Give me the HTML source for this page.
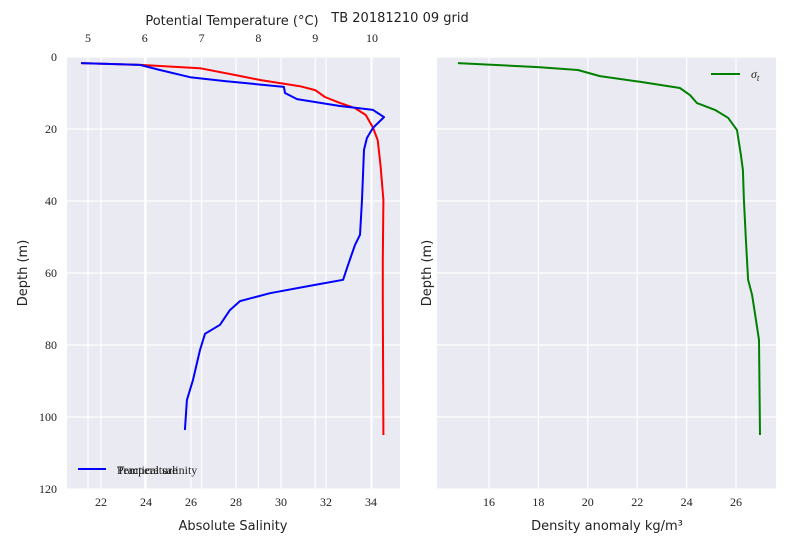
<!DOCTYPE html>
<html><head><meta charset="utf-8"><style>
body{margin:0;background:#fff}
svg text{font-family:"DejaVu Sans","Liberation Sans",sans-serif}
.tk{font-family:"Liberation Serif","DejaVu Serif",serif;font-size:12px;fill:#222}
.lb{font-size:13px;fill:#222}
</style></head><body>
<svg id="c" width="800" height="550" xmlns="http://www.w3.org/2000/svg"></svg>
<script>
const tempTicks=[5,6,7,8,9,10];
const salTicks=[22,24,26,28,30,32,34];
const depthTicks=[0,20,40,60,80,100,120];
const denTicks=[16,18,20,22,24,26];
const tempVals=[4.88,5.92,6.97,7.59,8.03,8.73,9.0,9.17,9.44,9.7,9.89,10.02,10.1,10.15,10.2,10.19,10.19,10.2];
const tempDepth=[1.7,2.2,3.1,5.0,6.4,8.1,9.2,11.1,12.8,14.2,16.1,19.7,23.1,30,39.7,56.4,67.5,105];
const salVals=[21.11,23.73,24.62,25.96,27.51,30.13,30.18,30.71,32.62,34.09,34.58,34.09,33.82,33.69,33.6,33.51,33.29,32.98,32.76,31.51,29.51,28.18,27.73,27.29,26.62,26.4,26.09,25.82,25.73];
const salDepth=[1.7,2.2,3.6,5.6,6.7,8.3,10,11.7,13.6,14.7,16.7,19.7,22.5,25.8,39.7,49.4,52.2,57.8,61.9,63.3,65.6,67.8,70.3,74.4,76.9,81.4,89.7,95.3,103.6];
const denVals=[14.74,17.98,19.6,20.49,22.11,23.73,24.14,24.42,25.15,25.68,26.04,26.2,26.28,26.32,26.4,26.49,26.65,26.81,26.93,26.97];
const denDepth=[1.7,2.8,3.6,5.3,6.9,8.6,10.6,12.8,14.7,16.9,20.3,27.2,31.4,39.7,50.8,61.9,66.1,73.1,78.6,105];

const svg=document.getElementById('c');const NS='http://www.w3.org/2000/svg';
function mk(t,a,p){const e=document.createElementNS(NS,t);for(const k in a)e.setAttribute(k,a[k]);(p||svg).appendChild(e);return e;}
const T=57,B=489;
const yD=d=>T+(d/120)*(B-T);
const L1=67,R1=400,L2=437,R2=776;
const xS=s=>101+(s-22)*22.5;
const xT=t=>88+(t-5)*56.8;
const xD=v=>489+(v-16)*24.7;

function panel(L,R,name){const r=mk('rect',{x:L,y:T,width:R-L,height:B-T,fill:'#eaeaf2'});

}
panel(L1,R1,'left-plot-area');panel(L2,R2,'right-plot-area');
function vline(x,n){const l=mk('line',{x1:x,x2:x,y1:T,y2:B,stroke:'#fff','stroke-width':1.2});

}
function hline(y,a,b,n){const l=mk('line',{x1:a,x2:b,y1:y,y2:y,stroke:'#fff','stroke-width':1.2});

}
function txt(x,y,s,cls,anchor,n){const t=mk('text',{x:x,y:y,'class':cls,'text-anchor':anchor||'middle'});t.textContent=s;

return t;}

salTicks.forEach(s=>{vline(xS(s),'salinity-gridline');txt(xS(s),506,s,'tk','middle','salinity-tick-label');});
tempTicks.forEach(t=>{vline(xT(t),'temperature-gridline');txt(xT(t),42,t,'tk','middle','temperature-tick-label');});
depthTicks.forEach(d=>{hline(yD(d),L1,R1,'depth-gridline-left');hline(yD(d),L2,R2,'depth-gridline-right');txt(57,yD(d)+4,d,'tk','end','depth-tick-label');});
denTicks.forEach(v=>{vline(xD(v),'density-gridline');txt(xD(v),506,v,'tk','middle','density-tick-label');});

function line(xs,ys,fx,col,n){const pts=xs.map((v,i)=>fx(v).toFixed(1)+','+yD(ys[i]).toFixed(1)).join(' ');
const p=mk('polyline',{points:pts,fill:'none',stroke:col,'stroke-width':2,'stroke-linejoin':'round'});

}
line(tempVals,tempDepth,xT,'#ff0000','temperature-line');
line(salVals,salDepth,xS,'#0000ff','salinity-line');
line(denVals,denDepth,xD,'#008000','density-line');

txt(233,530,'Absolute Salinity','lb','middle','x-axis-title-salinity');
txt(607,530,'Density anomaly kg/m³','lb','middle','x-axis-title-density');
txt(232,25,'Potential Temperature (°C)','lb','middle','x-axis-title-temperature');
txt(400,22,'TB 20181210 09 grid','lb','middle','chart-title');
let t=txt(27,273,'Depth (m)','lb','middle','y-axis-title-left');t.setAttribute('transform','rotate(-90 27 273)');
t=txt(431,273,'Depth (m)','lb','middle','y-axis-title-right');t.setAttribute('transform','rotate(-90 431 273)');

let g=mk('line',{x1:78,x2:106,y1:469,y2:469,stroke:'#0000ff','stroke-width':2});


txt(117,474,'Temperature','tk','start','legend-label-temperature');
txt(117,474,'Practical salinity','tk','start','legend-label-salinity');
g=mk('line',{x1:711,x2:740,y1:74,y2:74,stroke:'#008000','stroke-width':2});


t=txt(751,78,'σ','tk','start','legend-label-sigma-t');t.style.fontStyle='italic';
const sub=mk('tspan',{'font-size':9,dy:3});sub.textContent='t';t.appendChild(sub);
</script>
</body></html>
